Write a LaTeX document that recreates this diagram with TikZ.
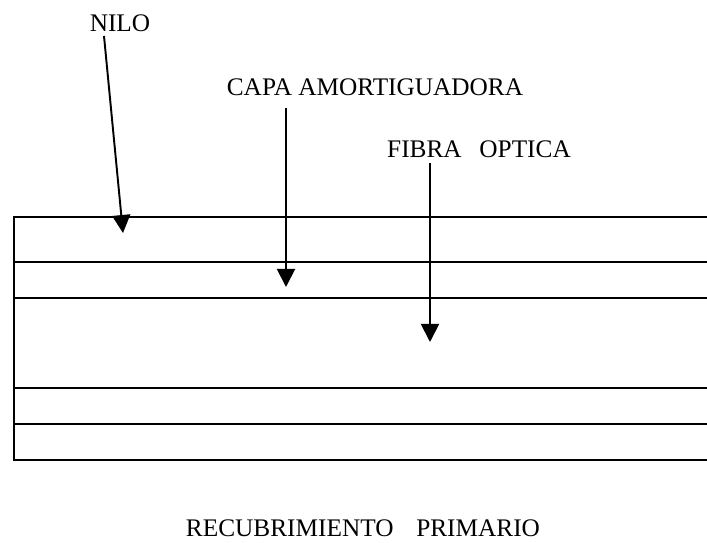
\documentclass[tikz,border=0pt]{standalone}
\usepackage{fontspec}
\setmainfont{Liberation Serif}
\usetikzlibrary{arrows.meta,
                positioning}

\begin{document}
\begin{tikzpicture}[
			x=0.02cm, y=-0.02cm,
			layer/.style = {line width=1.1pt},
			tag/.style = {inner sep=0pt, anchor=base, font=\fontsize{14.4}{17}\selectfont},
			pointer/.style = {line width=1.1pt, -{Triangle[length=3.6mm, width=3.6mm]}},
			]
			\useasboundingbox (0,0) rectangle (707,543);
			% layers
			\draw[layer] (707,217) -- (14,217) -- (14,460) -- (707,460);
			\draw[layer] (14,262) -- (707,262);
			\draw[layer] (14,298) -- (707,298);
			\draw[layer] (14,388) -- (707,388);
			\draw[layer] (14,424) -- (707,424);
			% labels
			\node[tag] (nilo) at (120,32) {NILO};
			\node[tag] (capa) at (375,96) {CAPA AMORTIGUADORA};
			\node[tag] (fibra) at (479,158) {FIBRA\hspace{.7em}OPTICA};
			\node[tag] (recub) at (363,537) {RECUBRIMIENTO\hspace{.9em}PRIMARIO};
			% arrow ends
			\coordinate (n1) at (104,36);
			\coordinate (n2) at (123,233);
			\coordinate (c1) at (286,108);
			\coordinate (c2) at (286,287);
			\coordinate (f1) at (430,163);
			\coordinate (f2) at (430,342);
			% arrows
			\draw[pointer] (n1) -- (n2);
			\draw[pointer] (c1) -- (c2);
			\draw[pointer] (f1) -- (f2);
		\end{tikzpicture}
\end{document}
